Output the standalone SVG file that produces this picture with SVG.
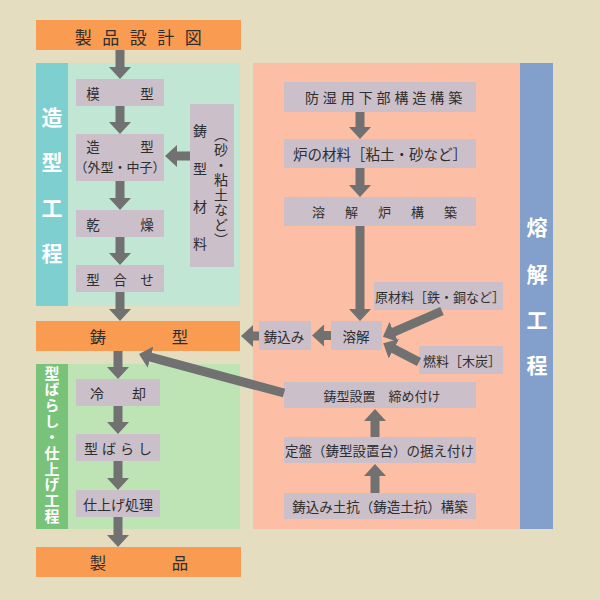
<svg xmlns="http://www.w3.org/2000/svg" width="600" height="600" viewBox="0 0 600 600">
<style>
text{font-family:"Noto Sans CJK JP","Noto Sans",sans-serif;fill:#2e2e2e;dominant-baseline:central;text-anchor:middle}
.band{fill:#F99B50}
.node{fill:#CBBFCA}
.lbl{fill:#ffffff;font-weight:bold}
.vert{writing-mode:vertical-rl;text-anchor:start}
.arr{stroke:#717171;stroke-width:9;fill:none;marker-end:url(#ah)}
</style>
<defs>
<marker id="ah" markerUnits="userSpaceOnUse" markerWidth="14" markerHeight="22" refX="1" refY="11" orient="auto" viewBox="0 0 14 22">
<path d="M0,0 L12,11 L0,22 z" fill="#717171"/>
</marker>
</defs>
<rect width="600" height="600" fill="#E5DDC0"/>
<!-- panels -->
<g id="panel-zoukei">
<rect x="36" y="63" width="32" height="243" fill="#7ECFCF"/>
<rect x="68" y="63" width="172" height="243" fill="#C1E6D3"/>
<text class="lbl" font-size="21"><tspan x="52" y="116">造</tspan><tspan x="52" y="161">型</tspan><tspan x="52" y="207">工</tspan><tspan x="52" y="252">程</tspan></text>
</g>
<g id="panel-kata">
<rect x="36" y="364" width="32" height="165" fill="#78C27A"/>
<rect x="68" y="364" width="172" height="165" fill="#BEE4B6"/>
<text class="lbl vert" x="52" y="366" font-size="15" letter-spacing="0.9">型ばらし・仕上げ工程</text>
</g>
<g id="panel-youkai">
<rect x="253" y="63" width="267" height="466" fill="#FCBEA4"/>
<rect x="520" y="63" width="33" height="466" fill="#839FCB"/>
<text class="lbl" font-size="21"><tspan x="537" y="226">熔</tspan><tspan x="537" y="273">解</tspan><tspan x="537" y="319">工</tspan><tspan x="537" y="364">程</tspan></text>
</g>
<!-- nodes -->
<g id="n-sekkeizu"><rect class="band" x="36" y="20" width="205" height="30"/><text x="143.5" y="36" font-size="17" letter-spacing="10.5">製品設計図</text></g>
<g id="n-mokei"><rect class="node" x="76" y="79" width="88" height="27"/><text x="120" y="92.5" font-size="13.5">模　　　型</text></g>
<g id="n-zoukei"><rect class="node" x="76" y="134" width="88" height="47"/><text x="120" y="146" font-size="13.5">造　　　型</text><text x="120" y="166" font-size="13">（外型・中子）</text></g>
<g id="n-kansou"><rect class="node" x="76" y="210" width="88" height="27"/><text x="120" y="223.5" font-size="13.5">乾　　　燥</text></g>
<g id="n-kataawase"><rect class="node" x="76" y="265" width="88" height="27"/><text x="120" y="278.5" font-size="13.5">型　合　せ</text></g>
<g id="n-igatazairyo"><rect class="node" x="190" y="104" width="44" height="163"/>
<text font-size="14"><tspan x="200" y="130">鋳</tspan><tspan x="200" y="168">型</tspan><tspan x="200" y="206">材</tspan><tspan x="200" y="243">料</tspan></text>
<text class="vert" x="221" y="128" font-size="14" letter-spacing="1">（砂・粘土など）</text></g>
<g id="n-igata"><rect class="band" x="36" y="321" width="204" height="30"/><text x="139" y="336" font-size="16.4">鋳　　　　型</text></g>
<g id="n-reikyaku"><rect class="node" x="76" y="379" width="84" height="27"/><text x="118" y="392.5" font-size="14">冷　　却</text></g>
<g id="n-katabarashi"><rect class="node" x="76" y="434" width="84" height="27"/><text x="120" y="447.5" font-size="14" letter-spacing="4">型ばらし</text></g>
<g id="n-shiage"><rect class="node" x="76" y="490" width="84" height="27"/><text x="118" y="503.5" font-size="14">仕上げ処理</text></g>
<g id="n-seihin"><rect class="band" x="36" y="547" width="205" height="30"/><text x="139" y="562" font-size="16.4">製　　　　品</text></g>
<g id="n-boshitsu"><rect class="node" x="284" y="82" width="192" height="30"/><text x="385.5" y="97" font-size="14" letter-spacing="3.9">防湿用下部構造構築</text></g>
<g id="n-ronozairyo"><rect class="node" x="284" y="139" width="192" height="29"/><text x="380" y="153.5" font-size="14.5">炉の材料［粘土・砂など］</text></g>
<g id="n-youkairo"><rect class="node" x="284" y="197" width="192" height="29"/><text x="394.5" y="211.5" font-size="13" letter-spacing="20">溶解炉構築</text></g>
<g id="n-genzairyo"><rect class="node" x="374" y="282" width="129" height="28"/><text x="440" y="296" font-size="13">原材料［鉄・銅など］</text></g>
<g id="n-youkai"><rect class="node" x="331" y="321" width="51" height="29"/><text x="356" y="335.5" font-size="13.5">溶解</text></g>
<g id="n-ikomi"><rect class="node" x="259" y="321" width="52" height="29"/><text x="284" y="335.5" font-size="13.5">鋳込み</text></g>
<g id="n-nenryo"><rect class="node" x="419" y="346" width="84" height="28"/><text x="462" y="360" font-size="13">燃料［木炭］</text></g>
<g id="n-secchi"><rect class="node" x="284" y="382" width="192" height="26"/><text x="382" y="395" font-size="13">鋳型設置　締め付け</text></g>
<g id="n-joban"><rect class="node" x="284" y="437" width="192" height="26"/><text x="379.5" y="450" font-size="13.5">定盤（鋳型設置台）の据え付け</text></g>
<g id="n-dokou"><rect class="node" x="284" y="493" width="192" height="26"/><text x="380" y="506" font-size="13.5">鋳込み土抗（鋳造土抗）構築</text></g>
<!-- connectors -->
<g id="connectors">
<line class="arr" x1="120" y1="50" x2="120" y2="68"/>
<line class="arr" x1="120" y1="106" x2="120" y2="123"/>
<line class="arr" x1="120" y1="181" x2="120" y2="199"/>
<line class="arr" x1="120" y1="237" x2="120" y2="254"/>
<line class="arr" x1="120" y1="292" x2="120" y2="310"/>
<line class="arr" x1="190" y1="156" x2="176" y2="156"/>
<line class="arr" x1="118" y1="351" x2="118" y2="368"/>
<line class="arr" x1="118" y1="406" x2="118" y2="423"/>
<line class="arr" x1="118" y1="461" x2="118" y2="479"/>
<line class="arr" x1="118" y1="517" x2="118" y2="536"/>
<line class="arr" x1="360" y1="112" x2="360" y2="128"/>
<line class="arr" x1="360" y1="168" x2="360" y2="186"/>
<line class="arr" x1="360" y1="226" x2="360" y2="310"/>
<line class="arr" x1="442" y1="311" x2="393" y2="332.4"/>
<line class="arr" x1="419" y1="362" x2="393" y2="348.4"/>
<line class="arr" x1="331" y1="335.5" x2="323" y2="335.5"/>
<line class="arr" x1="259" y1="336" x2="252" y2="336"/>
<line class="arr" x1="284" y1="393" x2="149.6" y2="356.9"/>
<line class="arr" x1="375" y1="437" x2="375" y2="420"/>
<line class="arr" x1="375" y1="493" x2="375" y2="475"/>
</g>
</svg>
